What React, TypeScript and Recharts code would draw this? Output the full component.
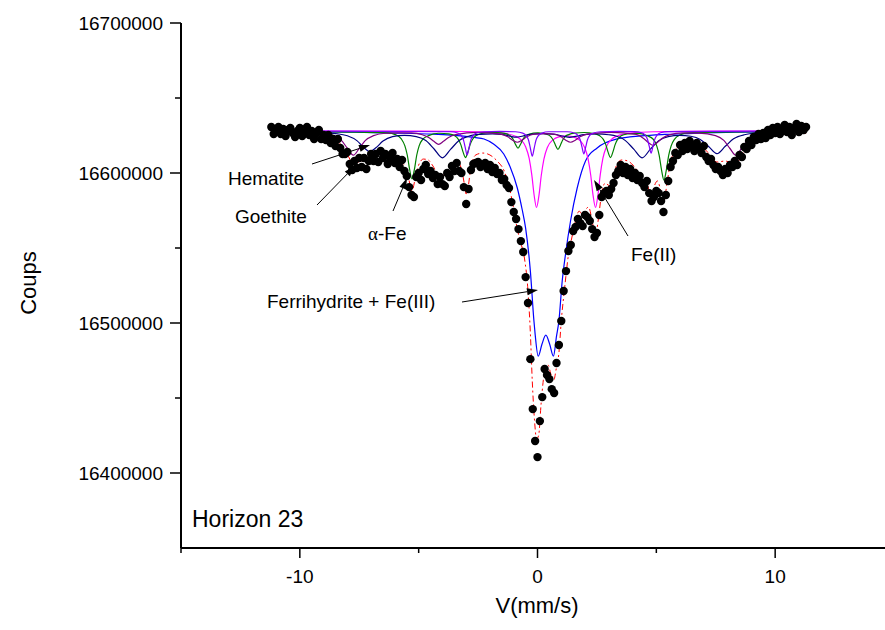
import React from 'react'
import {ComposedChart, Line, Scatter, XAxis, YAxis} from 'recharts'

const FONT = '"Liberation Sans", Arial, sans-serif'

// axis ticks
const X_TICKS = [-15, -10, -5, 0, 5, 10, 15]
const X_LABELED = [-10, 0, 10]
const Y_TICKS = [16400000, 16450000, 16500000, 16550000, 16600000, 16650000, 16700000]
const Y_LABELED = [16400000, 16500000, 16600000, 16700000]

// measured spectrum: one count per velocity channel
const DOT_START = -11.2
const DOT_STEP = 0.1
const DOT_COUNTS = [
  16630700, 16626000, 16628000, 16630700, 16626000, 16629300, 16624700, 16628700, 16630000, 16626700,
  16624000, 16628000, 16630000, 16624700, 16626700, 16630700, 16625300, 16628000, 16622700, 16626700,
  16628700, 16622700, 16625300,
  16622000, 16625300, 16620000, 16622700, 16618000, 16622700, 16616700, 16612700, 16612700, 16614000,
  16606000, 16602000, 16608000, 16603300, 16610000, 16604000, 16610000, 16602700, 16608000, 16612700,
  16608000, 16612700, 16607300, 16614700, 16610000, 16612700, 16606000, 16610000, 16613300, 16606700,
  16609300, 16604000, 16608700, 16601300, 16598000, 16590600, 16585300, 16584000, 16597300, 16600000,
  16595300, 16602700, 16605300, 16599300, 16601300, 16596700, 16598700, 16592600, 16597300, 16592600,
  16591300, 16600000, 16597300, 16604700, 16601300, 16606700, 16601300, 16600000, 16590600, 16579300,
  16589300, 16602000, 16606000, 16606700, 16607300, 16604000, 16605300, 16606700, 16602700, 16605300,
  16600700, 16603300, 16599300, 16600000, 16595300, 16596000, 16592000, 16590000, 16580600, 16574000,
  16569300, 16562600, 16554600, 16547300, 16530600, 16513300, 16475900, 16442600, 16421300, 16410600,
  16434600, 16450600, 16469300, 16465300, 16462600, 16455900, 16453300, 16473300, 16485300, 16501300,
  16521300, 16534600, 16548000, 16552000, 16561300, 16564000, 16569300, 16566600, 16564600, 16572000,
  16570600, 16568000, 16562600, 16557300, 16560000, 16572000, 16584000, 16586600, 16588000, 16585300,
  16589300, 16593300, 16598700, 16601300, 16605300, 16600000, 16604000, 16598700, 16602700, 16596700,
  16600000, 16595300, 16598000, 16593300, 16590600, 16594700, 16586600, 16581300, 16584000, 16588000,
  16586600, 16581300, 16574000, 16585300, 16594700, 16604000, 16608000, 16613300, 16612000, 16618700,
  16614700, 16620000, 16616000, 16621300, 16617300, 16614700, 16620000, 16616700, 16613300, 16618000,
  16610700, 16608000, 16609300, 16605300, 16602700, 16604000, 16601300, 16598700, 16602700, 16600000,
  16605300, 16604000, 16608000, 16605300, 16612000, 16610700, 16617300, 16616000, 16621300, 16618700,
  16624000, 16622000, 16626000, 16622700, 16626700, 16623300, 16628700, 16625300, 16630000, 16626700,
  16630700, 16626000, 16629300, 16632000, 16627300, 16630700, 16625300, 16630000, 16632700, 16627300,
  16631300, 16628700, 16630700,
]

// total fit (red dash-dot)
const FIT = [
  [-11.2, 16627000], [-10.5, 16626700], [-10, 16626300], [-9.5, 16625800], [-9, 16624700],
  [-8.6, 16622800], [-8.3, 16619500], [-8, 16612400], [-7.75, 16606100], [-7.5, 16607600],
  [-7.25, 16608500], [-7, 16609200], [-6.75, 16612000], [-6.5, 16612000], [-6.2, 16611300],
  [-5.9, 16610000], [-5.7, 16607300], [-5.55, 16603300], [-5.42, 16596000], [-5.28, 16588000],
  [-5.15, 16596000], [-5, 16605300], [-4.8, 16609300], [-4.6, 16608700], [-4.4, 16604700],
  [-4.2, 16599300], [-4, 16598000], [-3.8, 16602700], [-3.6, 16606700], [-3.4, 16608000],
  [-3.2, 16602700], [-3.1, 16594700], [-3, 16586000], [-2.92, 16590600], [-2.8, 16604000],
  [-2.6, 16612000], [-2.3, 16613300], [-2, 16612000], [-1.7, 16608000], [-1.4, 16601300],
  [-1.2, 16591300], [-1, 16576000], [-0.85, 16562600], [-0.7, 16553300], [-0.55, 16543300],
  [-0.4, 16521300], [-0.3, 16493300], [-0.22, 16461300], [-0.12, 16433900], [-0.04, 16422600],
  [0.05, 16425200], [0.15, 16445900], [0.25, 16462600], [0.35, 16471900], [0.45, 16471900],
  [0.55, 16466600], [0.67, 16461300], [0.8, 16470600], [0.9, 16479900], [1, 16501300],
  [1.15, 16524600], [1.3, 16545300], [1.45, 16557300], [1.6, 16568000], [1.75, 16574600],
  [1.87, 16572000], [1.95, 16569300], [2.05, 16576000], [2.15, 16577300], [2.3, 16568000],
  [2.44, 16558000], [2.55, 16568000], [2.7, 16586600], [2.85, 16593300], [2.97, 16592000],
  [3.07, 16591300], [3.2, 16598700], [3.35, 16606000], [3.55, 16608700], [3.8, 16608000],
  [4.05, 16604700], [4.25, 16600700], [4.4, 16597300], [4.55, 16594700], [4.68, 16589300],
  [4.78, 16583300], [4.9, 16590600], [5.05, 16594700], [5.2, 16587300], [5.32, 16581300],
  [5.45, 16593300], [5.6, 16607300], [5.8, 16615300], [6.1, 16619300], [6.45, 16620000],
  [6.8, 16618700], [7.2, 16613300], [7.55, 16607300], [7.9, 16608000], [8.15, 16606700],
  [8.34, 16605300], [8.55, 16610700], [8.8, 16617300], [9.2, 16622300], [9.7, 16624600],
  [10.3, 16625700], [11.3, 16626500],
]

// ferrihydrite + Fe(III) doublet (blue)
const FERRIHYDRITE = [
  [-11.2, 16627700], [-7.65, 16627300], [-5.65, 16626500], [-4.65, 16626000], [-3.65, 16625300],
  [-2.65, 16623700], [-2.25, 16622700], [-1.85, 16619300], [-1.42, 16612700], [-1.15, 16604000],
  [-0.85, 16590000], [-0.65, 16576000], [-0.5, 16563300], [-0.3, 16534600], [-0.15, 16501300],
  [-0.1, 16492600], [0.03, 16477900], [0.19, 16486000], [0.35, 16491900], [0.51, 16486000],
  [0.67, 16477900], [0.8, 16491300], [0.9, 16501300], [1.04, 16528000], [1.18, 16546000],
  [1.39, 16568000], [1.67, 16590000], [2.02, 16608000], [2.51, 16616700], [3.35, 16622700],
  [4.35, 16624700], [5.35, 16625700], [6.35, 16626300], [8.35, 16627200], [11.3, 16627600],
]

// Fe(II) doublet (magenta)
const FE2 = [
  [-11.2, 16628000], [-5, 16627900], [-2.5, 16627500], [-1.5, 16626600], [-0.95, 16624700],
  [-0.7, 16622300], [-0.5, 16617500], [-0.35, 16609700], [-0.24, 16598700], [-0.14, 16585000],
  [-0.04, 16577000], [0.06, 16584900], [0.16, 16598500], [0.27, 16609300], [0.42, 16617200],
  [0.65, 16622100], [0.9, 16624100], [1.2, 16624700], [1.5, 16624100], [1.75, 16622100],
  [1.98, 16617200], [2.13, 16609300], [2.24, 16598500], [2.34, 16584900], [2.44, 16577000],
  [2.54, 16585000], [2.64, 16598700], [2.75, 16609700], [2.9, 16617500], [3.1, 16622300],
  [3.35, 16624700], [3.9, 16626600], [4.9, 16627500], [7.5, 16627900], [11.3, 16628000],
]

// alpha-Fe sextet (green)
const ALPHA_FE = [
  [-11.2, 16627700], [-7.5, 16627200], [-6.3, 16626800], [-5.98, 16625600], [-5.73, 16622700],
  [-5.58, 16618100], [-5.48, 16612000], [-5.38, 16602400], [-5.28, 16596000], [-5.18, 16602400],
  [-5.08, 16612000], [-4.98, 16618100], [-4.83, 16622500], [-4.58, 16624900], [-4.15, 16626500],
  [-3.73, 16626100], [-3.48, 16624800], [-3.33, 16622400], [-3.23, 16619100], [-3.13, 16613900],
  [-3.03, 16610300], [-2.93, 16614000], [-2.83, 16619200], [-2.73, 16622500], [-2.58, 16625000],
  [-2.33, 16626400], [-1.92, 16627100], [-1.52, 16626800], [-1.27, 16625900], [-1.12, 16624500],
  [-1.02, 16622300], [-0.92, 16618900], [-0.82, 16616500], [-0.72, 16619000], [-0.62, 16622300],
  [-0.52, 16624400], [-0.37, 16625800], [0.02, 16626700], [0.41, 16625700], [0.56, 16624300],
  [0.66, 16622000], [0.76, 16618400], [0.86, 16615700], [0.96, 16618400], [1.06, 16622000],
  [1.16, 16624300], [1.31, 16625600], [1.56, 16626600], [1.97, 16627000], [2.37, 16626300],
  [2.62, 16624800], [2.77, 16622400], [2.87, 16619100], [2.97, 16613900], [3.07, 16610300],
  [3.17, 16613900], [3.27, 16619100], [3.37, 16622400], [3.52, 16624800], [3.77, 16626000],
  [4.2, 16626400], [4.62, 16624800], [4.87, 16622500], [5.02, 16617900], [5.12, 16611700],
  [5.22, 16601900], [5.32, 16595300], [5.42, 16601900], [5.52, 16611700], [5.62, 16617900],
  [5.77, 16622600], [6.02, 16625500], [6.32, 16626700], [7.5, 16627300], [11.3, 16627700],
]

// hematite sextet (navy)
const HEMATITE = [
  [-11.2, 16627700], [-9.5, 16627300], [-8.5, 16626300], [-8, 16624800], [-7.6, 16621600],
  [-7.3, 16616900], [-7.05, 16614200], [-6.8, 16616800], [-6.5, 16621300], [-6.1, 16624200],
  [-5.6, 16625100], [-5.1, 16624200], [-4.7, 16621600], [-4.35, 16616000], [-4, 16610100],
  [-3.65, 16615900], [-3.3, 16621600], [-2.9, 16624500], [-2.45, 16625700], [-1.9, 16626100],
  [-1.5, 16625700], [-1.15, 16624500], [-0.9, 16623900], [-0.65, 16624500], [-0.3, 16625800],
  [0.22, 16626300], [0.75, 16625700], [1.1, 16624500], [1.35, 16623800], [1.6, 16624400],
  [1.95, 16625600], [2.5, 16626100], [3, 16625500], [3.3, 16624700], [3.7, 16621600],
  [4.05, 16615900], [4.4, 16610100], [4.75, 16615900], [5.1, 16621500], [5.5, 16624300],
  [5.98, 16625100], [6.45, 16624500], [6.85, 16622400], [7.2, 16617700], [7.55, 16612900],
  [7.9, 16617800], [8.25, 16622800], [8.7, 16625500], [9.5, 16627000], [11.3, 16627700],
]

// goethite sextet (purple)
const GOETHITE = [
  [-11.2, 16627700], [-9.3, 16627000], [-8.6, 16625100], [-8.25, 16621700], [-8, 16616500],
  [-7.75, 16611900], [-7.5, 16616400], [-7.25, 16621600], [-6.9, 16624900], [-6.4, 16626500],
  [-5.9, 16626800], [-5.3, 16626700], [-4.85, 16625500], [-4.56, 16623500], [-4.36, 16621100],
  [-4.16, 16619100], [-3.96, 16621100], [-3.76, 16623500], [-3.45, 16625600], [-2.5, 16627100],
  [-1.55, 16625900], [-1.25, 16624100], [-1.05, 16621900], [-0.85, 16620500], [-0.65, 16621900],
  [-0.45, 16624100], [-0.15, 16625900], [0.27, 16626300], [0.69, 16625900], [0.99, 16624100],
  [1.19, 16621900], [1.39, 16620500], [1.59, 16621900], [1.79, 16624100], [2.09, 16625900],
  [3.1, 16627100], [4.15, 16625700], [4.45, 16623200], [4.65, 16620500], [4.85, 16618500],
  [5.05, 16620500], [5.25, 16623200], [5.55, 16625400], [6.1, 16626700], [6.8, 16626600],
  [7.49, 16624900], [7.84, 16621700], [8.09, 16616500], [8.34, 16611900], [8.59, 16616500],
  [8.84, 16621700], [9.19, 16625100], [9.9, 16627000], [11.3, 16627700],
]

// narrow lines (violet)
const SHARP = [
  [-11.2, 16628000], [-3.66, 16627500], [-3.36, 16626700], [-3.21, 16625000], [-3.11, 16621800],
  [-3.04, 16616900], [-2.96, 16612000], [-2.88, 16616900], [-2.81, 16621800], [-2.71, 16625000],
  [-2.56, 16626700], [-2.26, 16627500], [-1.6, 16627700], [-0.92, 16627500], [-0.62, 16626600],
  [-0.47, 16624800], [-0.37, 16621500], [-0.3, 16616500], [-0.22, 16611300], [-0.14, 16616500],
  [-0.07, 16621500], [0.03, 16624800], [0.18, 16626600], [0.48, 16627500], [0.85, 16627500],
  [1.25, 16627500], [1.55, 16626700], [1.7, 16625100], [1.8, 16622000], [1.87, 16617400],
  [1.95, 16612700], [2.03, 16617400], [2.1, 16622000], [2.2, 16625100], [2.35, 16626700],
  [2.65, 16627500], [3.4, 16627700], [4.08, 16627600], [4.38, 16626800], [4.53, 16625200],
  [4.63, 16622300], [4.7, 16617900], [4.78, 16613300], [4.86, 16617900], [4.93, 16622300],
  [5.03, 16625200], [5.18, 16626800], [5.48, 16627600], [11.3, 16628000],
]

const SERIES = [
  {key: 'fit', pts: FIT, color: '#ff0000', dash: '6 3 2 3', width: 1},
  {key: 'ferri', pts: FERRIHYDRITE, color: '#0000ff', width: 1.2},
  {key: 'fe2', pts: FE2, color: '#ff00ff', width: 1.2},
  {key: 'alpha', pts: ALPHA_FE, color: '#008000', width: 1.2},
  {key: 'hem', pts: HEMATITE, color: '#000080', width: 1.2},
  {key: 'goe', pts: GOETHITE, color: '#800080', width: 1.2},
  {key: 'sharp', pts: SHARP, color: '#8000ff', width: 1.2},
]

function buildTable() {
  const rows = new Map<number, any>()
  for (const s of SERIES) {
    for (const [v, c] of s.pts) {
      const k = Math.round(v * 1000)
      const r = rows.get(k) ?? {v}
      r[s.key] = c
      rows.set(k, r)
    }
  }
  return [...rows.values()].sort((a, b) => a.v - b.v)
}

const table = buildTable()
const dots = DOT_COUNTS.map((c, i) => ({v: +(DOT_START + i * DOT_STEP).toFixed(2), c}))

function XTick({x, y, payload}: any) {
  const major = X_LABELED.includes(payload.value)
  return (
    <g>
      <line x1={x} x2={x} y1={y} y2={y + (major ? 10 : 5)} stroke="#000" strokeWidth={1.5} />
      {major && (
        <text x={x} y={y + 35} textAnchor="middle" fontSize={19} fontFamily={FONT} fill="#000">
          {payload.value}
        </text>
      )}
    </g>
  )
}

function YTick({x, y, payload}: any) {
  const major = Y_LABELED.includes(payload.value)
  return (
    <g>
      <line x1={x - (major ? 11 : 6)} x2={x} y1={y} y2={y} stroke="#000" strokeWidth={1.5} />
      {major && (
        <text x={x - 18} y={y + 7} textAnchor="end" fontSize={19} fontFamily={FONT} fill="#000">
          {payload.value}
        </text>
      )}
    </g>
  )
}

function Arrow({x1, y1, x2, y2}: {x1: number; y1: number; x2: number; y2: number}) {
  const a = Math.atan2(y2 - y1, x2 - x1)
  const len = 11
  const half = 3.5
  const bx = x2 - len * Math.cos(a)
  const by = y2 - len * Math.sin(a)
  const p1 = `${bx + half * Math.sin(a)},${by - half * Math.cos(a)}`
  const p2 = `${bx - half * Math.sin(a)},${by + half * Math.cos(a)}`
  return (
    <g>
      <line x1={x1} y1={y1} x2={bx} y2={by} stroke="#000" strokeWidth={1} />
      <polygon points={`${x2},${y2} ${p1} ${p2}`} fill="#000" />
    </g>
  )
}

export default function App() {
  return (
    <div
      style={{
        position: 'absolute',
        left: 0,
        top: 0,
        width: 885,
        height: 630,
        overflow: 'hidden',
        background: '#fff',
      }}
    >
      <ComposedChart
        width={900}
        height={630}
        data={table}
        margin={{top: 23, right: 6, bottom: 22, left: 0}}
      >
        <XAxis
          dataKey="v"
          type="number"
          domain={[-15, 15]}
          ticks={X_TICKS}
          interval={0}
          allowDataOverflow
          height={60}
          tickSize={0}
          tickMargin={0}
          tickLine={false}
          tick={<XTick />}
          axisLine={{stroke: '#000', strokeWidth: 2}}
        />
        <YAxis
          type="number"
          domain={[16350000, 16700000]}
          ticks={Y_TICKS}
          interval={0}
          allowDataOverflow
          width={181}
          tickSize={0}
          tickMargin={0}
          tickLine={false}
          tick={<YTick />}
          axisLine={{stroke: '#000', strokeWidth: 2}}
        />
        <Line
          dataKey="fit"
          type="monotone"
          stroke="#ff0000"
          strokeWidth={1}
          strokeDasharray="6 3 2 3"
          dot={false}
          activeDot={false}
          connectNulls
          isAnimationActive={false}
        />
        <Scatter
          data={dots}
          dataKey="c"
          isAnimationActive={false}
          shape={(p: any) => <circle cx={p.cx} cy={p.cy} r={4.2} fill="#000" />}
        />
        {SERIES.filter((s) => s.key !== 'fit').map((s) => (
          <Line
            key={s.key}
            dataKey={s.key}
            type="monotone"
            stroke={s.color}
            strokeWidth={s.width}
            dot={false}
            activeDot={false}
            connectNulls
            isAnimationActive={false}
          />
        ))}
      </ComposedChart>

      <svg
        width={885}
        height={630}
        style={{position: 'absolute', left: 0, top: 0, pointerEvents: 'none'}}
        fontFamily={FONT}
        fill="#000"
      >
        <text x={36} y={283} fontSize={22} textAnchor="middle" transform="rotate(-90 36 283)">
          Coups
        </text>
        <text x={537} y={613} fontSize={22} textAnchor="middle">
          V(mm/s)
        </text>
        <text x={192} y={527} fontSize={23}>
          Horizon 23
        </text>

        <text x={228} y={185} fontSize={19}>Hematite</text>
        <Arrow x1={312} y1={164} x2={370} y2={145} />
        <text x={235} y={223} fontSize={19}>Goethite</text>
        <Arrow x1={317} y1={205} x2={355} y2={166} />
        <text x={368} y={240} fontSize={19}>
          <tspan fontFamily='"Liberation Serif", serif'>α</tspan>-Fe
        </text>
        <Arrow x1={393} y1={211} x2={407} y2={178} />
        <text x={267} y={308} fontSize={19}>Ferrihydrite + Fe(III)</text>
        <Arrow x1={462} y1={302} x2={538} y2={290} />
        <text x={631} y={261} fontSize={19}>Fe(II)</text>
        <Arrow x1={628} y1={236} x2={594} y2={180} />
      </svg>
    </div>
  )
}
